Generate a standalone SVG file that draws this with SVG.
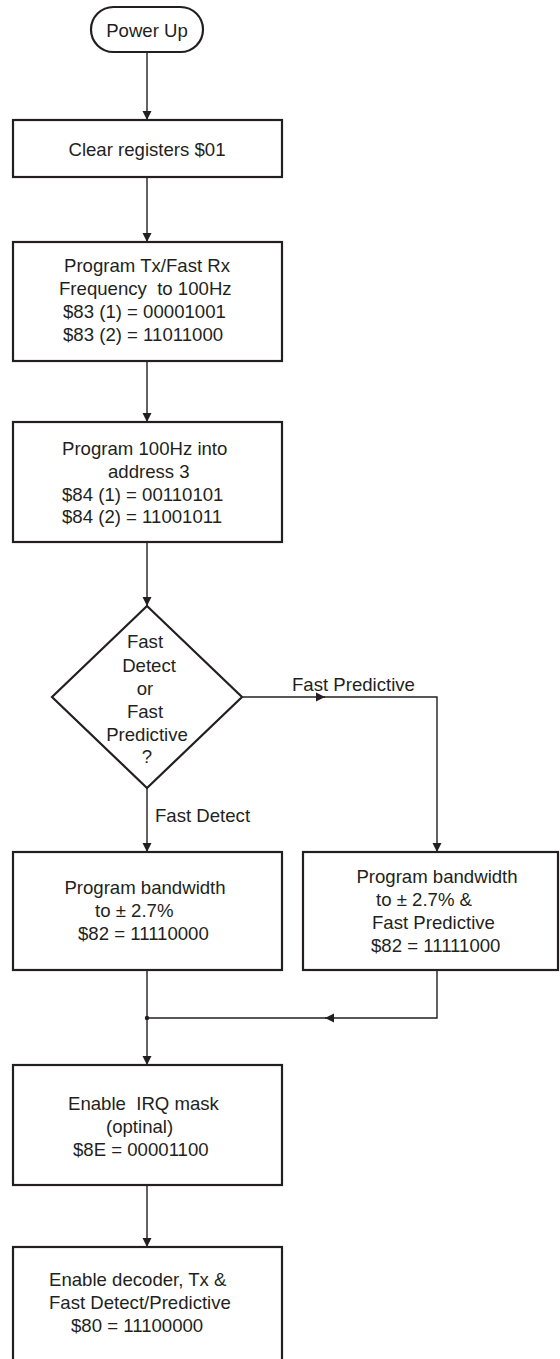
<svg xmlns="http://www.w3.org/2000/svg" width="560" height="1359" viewBox="0 0 560 1359">
<style>
.box{fill:#fff;stroke:#231f20;stroke-width:2.2}
.ln{fill:none;stroke:#231f20;stroke-width:1.4}
text{font-family:"Liberation Sans",Arial,sans-serif;font-size:18.6px;fill:#231f20}
.c{text-anchor:middle}
</style>
<defs>
<marker id="ah" markerUnits="userSpaceOnUse" markerWidth="12" markerHeight="12" viewBox="0 0 12 12" refX="10" refY="6" orient="auto">
<path d="M1,1.5 L10,6 L1,10.5 Z" fill="#231f20"/>
</marker>
</defs>
<rect width="560" height="1359" fill="#fff"/>
<g id="connectors">
<line class="ln" x1="147" y1="52" x2="147" y2="120" marker-end="url(#ah)"/>
<line class="ln" x1="147" y1="177" x2="147" y2="242" marker-end="url(#ah)"/>
<line class="ln" x1="147" y1="361" x2="147" y2="422" marker-end="url(#ah)"/>
<line class="ln" x1="147" y1="542" x2="147" y2="606" marker-end="url(#ah)"/>
<line class="ln" x1="243" y1="697" x2="325" y2="697" marker-end="url(#ah)"/>
<polyline class="ln" points="324,697 437,697 437,852" marker-end="url(#ah)"/>
<line class="ln" x1="147" y1="788" x2="147" y2="852" marker-end="url(#ah)"/>
<line class="ln" x1="147" y1="970" x2="147" y2="1065" marker-end="url(#ah)"/>
<polyline class="ln" points="437,970 437,1018 325,1018" marker-end="url(#ah)"/>
<line class="ln" x1="326" y1="1018" x2="147" y2="1018"/>
<circle cx="147" cy="1018" r="2.2" fill="#231f20"/>
<line class="ln" x1="147" y1="1185" x2="147" y2="1247" marker-end="url(#ah)"/>
<text x="292" y="691">Fast Predictive</text>
<text x="155" y="822">Fast Detect</text>
</g>
<g id="power-up">
<rect class="box" x="91" y="7" width="112" height="45" rx="22.5" ry="22.5"/>
<text class="c" x="147" y="37">Power Up</text>
</g>
<g id="clear-registers">
<rect class="box" x="13" y="120" width="269" height="57"/>
<text class="c" x="147" y="156">Clear registers $01</text>
</g>
<g id="program-tx">
<rect class="box" x="13" y="242" width="269" height="119"/>
<text class="c" x="147" y="272">Program Tx/Fast Rx</text>
<text x="59" y="295" xml:space="preserve">Frequency  to 100Hz</text>
<text x="63" y="318">$83 (1) = 00001001</text>
<text x="63" y="341">$83 (2) = 11011000</text>
</g>
<g id="program-100hz">
<rect class="box" x="13" y="422" width="269" height="120"/>
<text x="62" y="455">Program 100Hz into</text>
<text x="108" y="478">address 3</text>
<text x="62" y="501">$84 (1) = 00110101</text>
<text x="62" y="523">$84 (2) = 11001011</text>
</g>
<g id="decision">
<polygon class="box" points="147,606 242,697 147,788 52,697"/>
<text class="c" x="145" y="648">Fast</text>
<text class="c" x="149" y="672">Detect</text>
<text class="c" x="145" y="695">or</text>
<text class="c" x="145" y="718">Fast</text>
<text class="c" x="147" y="741">Predictive</text>
<text class="c" x="147" y="763">?</text>
</g>
<g id="bandwidth-detect">
<rect class="box" x="13" y="852" width="269" height="118"/>
<text class="c" x="145" y="894">Program bandwidth</text>
<text x="95" y="917">to ± 2.7%</text>
<text x="78" y="940">$82 = 11110000</text>
</g>
<g id="bandwidth-predictive">
<rect class="box" x="303" y="852" width="255" height="118"/>
<text class="c" x="437" y="883">Program bandwidth</text>
<text x="376" y="906">to ± 2.7% &amp;</text>
<text x="372" y="929">Fast Predictive</text>
<text x="371" y="952">$82 = 11111000</text>
</g>
<g id="irq-mask">
<rect class="box" x="13" y="1065" width="269" height="120"/>
<text x="68" y="1110" xml:space="preserve">Enable  IRQ mask</text>
<text x="106" y="1133">(optinal)</text>
<text x="73" y="1156">$8E = 00001100</text>
</g>
<g id="enable-decoder">
<rect class="box" x="13" y="1247" width="269" height="120"/>
<text x="49" y="1286">Enable decoder, Tx &amp;</text>
<text x="49" y="1309">Fast Detect/Predictive</text>
<text x="71" y="1332">$80 = 11100000</text>
</g>
</svg>
